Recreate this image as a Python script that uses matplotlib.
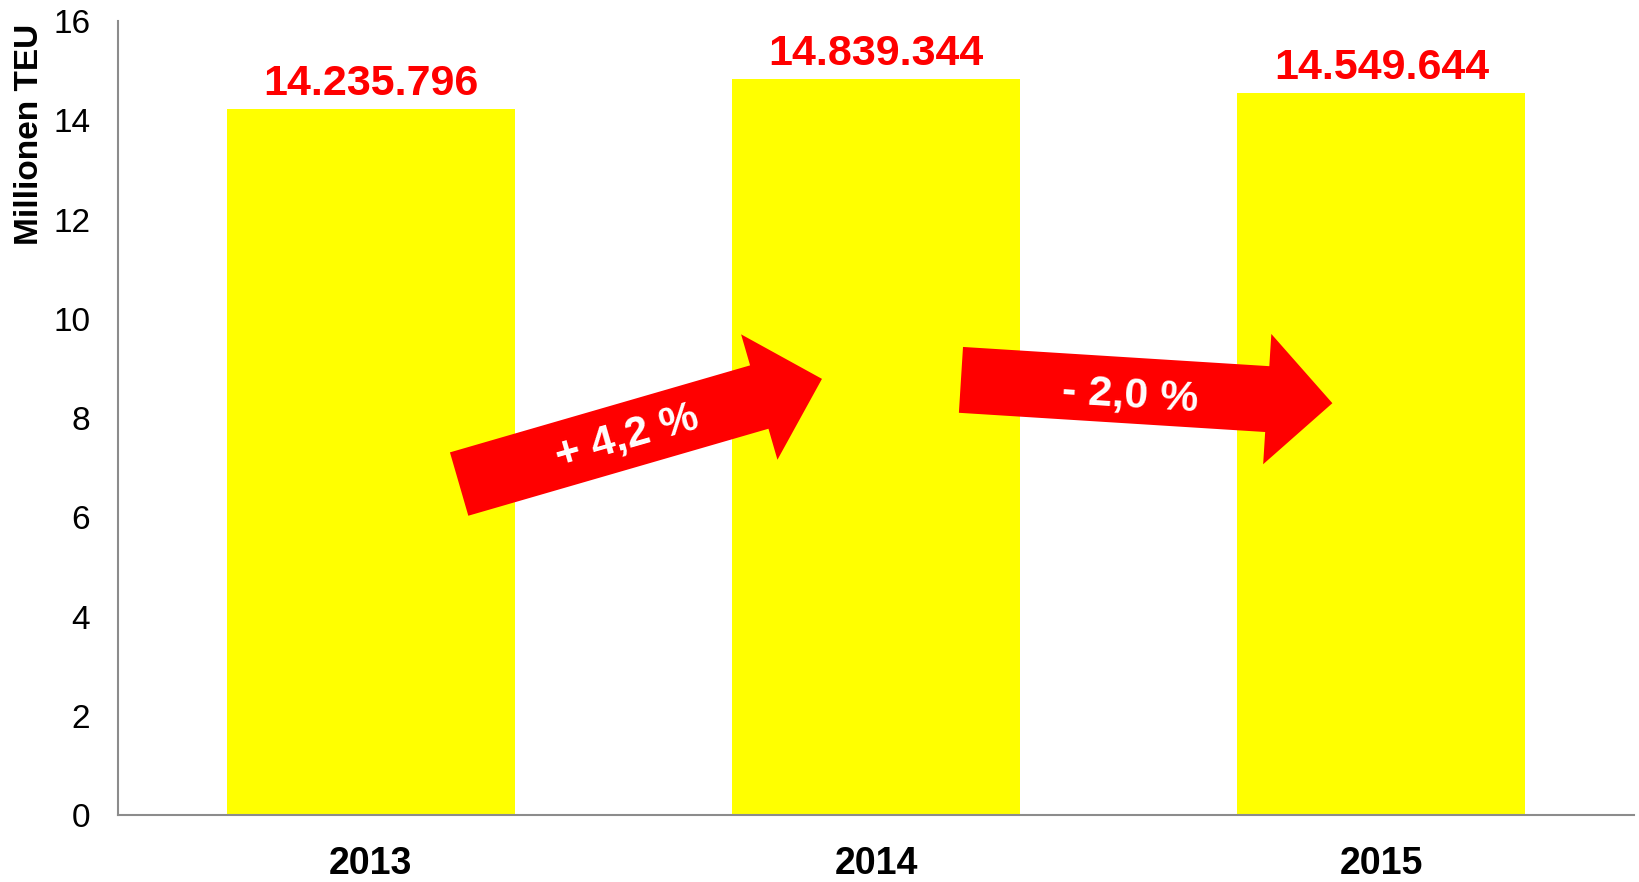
import matplotlib.pyplot as plt

plt.rcParams['font.family'] = ['Liberation Sans', 'DejaVu Sans']

years = ['2013', '2014', '2015']
teu = [14235796, 14839344, 14549644]
value_labels = ['14.235.796', '14.839.344', '14.549.644']
changes = ['+ 4,2 %', '- 2,0 %']
y_ticks = [0, 2, 4, 6, 8, 10, 12, 14, 16]

millions = [v / 1e6 for v in teu]
xs = list(range(len(years)))

fig = plt.figure(figsize=(16.39, 8.82), dpi=100)
ax = fig.add_axes([0.072, 0.076, 0.925, 0.9])

ax.bar(xs, millions, width=0.57, color='#FFFF00', zorder=2)

for x, v, lab in zip(xs, millions, value_labels):
    ax.annotate(lab, xy=(x, v), xytext=(0, 10), textcoords='offset points',
                ha='center', va='baseline', fontsize=31, fontweight='bold',
                color='#FF0000')

# change arrows between the bars (tail, tip, text position, angle)
arrows = [((0.175, 6.67), (0.893, 8.79), (0.507, 7.62), 16.0),
          ((1.168, 8.77), (1.903, 8.30), (1.503, 8.46), -3.5)]
for (tail, tip, tpos, ang), txt in zip(arrows, changes):
    ax.annotate('', xy=tip, xytext=tail,
                arrowprops=dict(arrowstyle='simple,head_length=47,head_width=94,tail_width=47.5',
                                mutation_scale=1, fc='#FF0000', ec='none',
                                shrinkA=0, shrinkB=0),
                zorder=3)
    ax.text(tpos[0], tpos[1], txt, rotation=ang, rotation_mode='anchor',
            ha='center', va='center', fontsize=31, fontweight='bold',
            color='white', zorder=4)

ax.set_xlim(-0.5, 2.5)
ax.set_ylim(0, 16)
ax.set_yticks(y_ticks)
ax.set_xticks(xs)
ax.set_xticklabels(years, fontsize=27, fontweight='bold')
ax.tick_params(axis='y', length=0, pad=20, labelsize=24)
ax.tick_params(axis='x', length=0, pad=22)

for s in ['top', 'right']:
    ax.spines[s].set_visible(False)
for s in ['left', 'bottom']:
    ax.spines[s].set_color('#8C8C8C')
    ax.spines[s].set_linewidth(1.5)

fig.text(0.018, 0.848, 'Millionen TEU', rotation=90, ha='center', va='center',
         fontsize=24, fontweight='bold')

fig.savefig('out.png', dpi=100)
